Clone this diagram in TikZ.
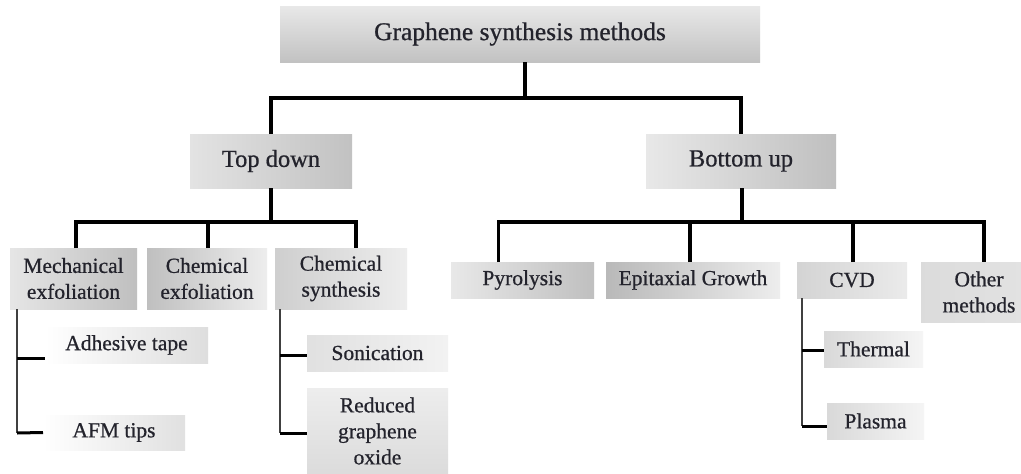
\documentclass[tikz,border=0pt]{standalone}
\usepackage{fontspec}
\setmainfont{Liberation Serif}[FakeBold=0.7]
\begin{document}
\begin{tikzpicture}[x=1pt,y=-1pt,
  box/.style={rectangle, inner sep=0pt, outer sep=0pt, align=center, text=txt, font=\fontsize{21.5}{26}\selectfont},
  big/.style={font=\fontsize{24.5}{28}\selectfont},
  huge/.style={font=\fontsize{25.5}{30}\selectfont},
  main/.style={line width=3.6pt, black},
  subline/.style={line width=1.8pt, black!75},
  tick/.style={line width=3pt, black}
]
\definecolor{txt}{HTML}{23232C}
\clip (0,0) rectangle (1021,474);
\fill[white] (0,0) rectangle (1021,474);

% level 0
\node[box, huge, minimum width=480, minimum height=56, top color=gray!18, bottom color=gray!48] (top) at (520,34) {Graphene synthesis methods};
% level 1
\node[box, big, minimum width=162, minimum height=54, left color=gray!22, right color=gray!48] (td) at (271,161) {Top down};
\node[box, big, minimum width=190, minimum height=54, left color=gray!18, right color=gray!50] (bu) at (741,161) {Bottom up};
% level 2 left
\node[box, minimum width=127, minimum height=61, left color=gray!20, right color=gray!50] (me) at (73.5,278.5) {Mechanical\\exfoliation};
\node[box, minimum width=120, minimum height=61, left color=gray!50, right color=gray!14] (ce) at (207,278.5) {Chemical\\exfoliation};
\node[box, minimum width=132, minimum height=61, left color=gray!38, right color=gray!14] (cs) at (341,278.5) {Chemical\\synthesis};
% level 2 right
\node[box, minimum width=143, minimum height=36, left color=gray!18, right color=gray!50] (py) at (522.5,280) {Pyrolysis};
\node[box, minimum width=174, minimum height=36, left color=gray!55, right color=gray!14] (ep) at (693,280) {Epitaxial Growth};
\node[box, minimum width=110, minimum height=36, left color=gray!34, right color=gray!16] (cvd) at (852,280) {CVD};
\node[box, minimum width=116, minimum height=60, left color=gray!28, right color=gray!22] (om) at (979,292) {Other\\methods};
% level 3
\node[box, minimum width=163, minimum height=36, left color=white, right color=gray!26] (ad) at (126.5,345) {Adhesive tape};
\node[box, minimum width=142, minimum height=35, left color=white, right color=gray!24] (afm) at (114,432.5) {AFM tips};
\node[box, minimum width=141, minimum height=36, left color=gray!24, right color=gray!10] (so) at (377.5,353) {Sonication};
\node[box, minimum width=141, minimum height=86, top color=gray!14, bottom color=gray!28] (rg) at (377.5,431) {Reduced\\graphene\\oxide};
\node[box, minimum width=99, minimum height=36, left color=gray!30, right color=gray!8] (th) at (873.5,349) {Thermal};
\node[box, minimum width=97, minimum height=36, left color=gray!30, right color=gray!8] (pl) at (875.5,421) {Plasma};

% main tree
\coordinate (j0) at (525,98);
\draw[main] (top.south -| j0) -- (j0);
\draw[main] (td.north) |- (j0) -| (bu.north);

\coordinate (j1) at (271,222);
\draw[main] (td.south) -- (j1);
\draw[main] ([xshift=2.5pt]me.north) |- (j1) -| ([xshift=15pt]cs.north);
\draw[main] ([xshift=1pt]ce.north) -- ([xshift=1pt]ce.north |- j1);

\coordinate (j2) at (742,222);
\draw[main] (bu.south -| j2) -- (j2);
\draw[main] ([xshift=-24pt]py.north) |- (j2) -| ([xshift=5pt]om.north);
\draw[main] ([xshift=-3pt]ep.north) -- ([xshift=-3pt]ep.north |- j2);
\draw[main] ([xshift=1pt]cvd.north) -- ([xshift=1pt]cvd.north |- j2);

% sub trees
\coordinate (m1) at (17,358);
\coordinate (m2) at (17,433);
\draw[subline] (me.south -| m1) -- (m2);
\draw[tick] (m1) -- (m1 -| ad.west);
\draw[tick] (m2) -- (afm.west);

\coordinate (c1) at (280,355);
\coordinate (c2) at (280,433);
\draw[subline] (cs.south -| c1) -- (c2);
\draw[tick] (c1) -- (c1 -| so.west);
\draw[tick] (c2) -- (c2 -| rg.west);

\coordinate (v1) at (802,350);
\coordinate (v2) at (802,426);
\draw[subline] (cvd.south -| v1) -- (v2);
\draw[tick] (v1) -- (v1 -| th.west);
\draw[tick] (v2) -- (v2 -| pl.west);
\end{tikzpicture}
\end{document}
